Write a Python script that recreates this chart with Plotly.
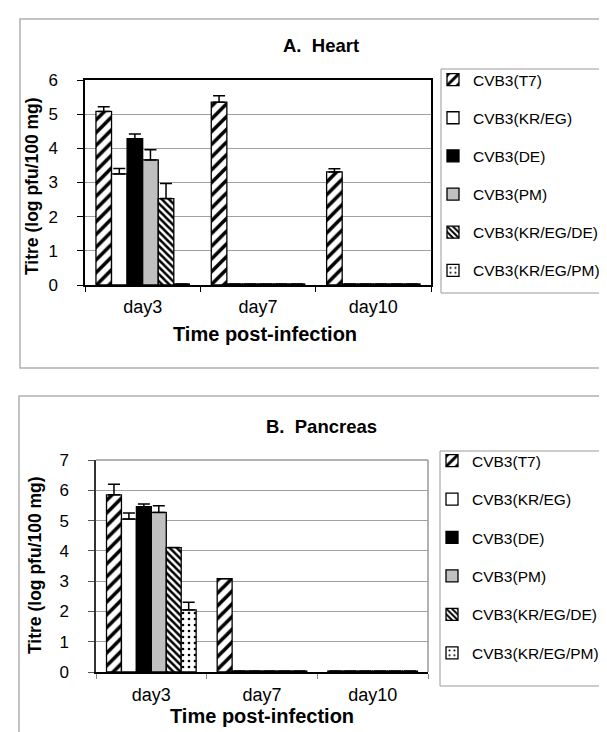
import plotly.graph_objects as go

W, H = 607, 732

days = ["day3", "day7", "day10"]
strains = ["CVB3(T7)", "CVB3(KR/EG)", "CVB3(DE)", "CVB3(PM)",
           "CVB3(KR/EG/DE)", "CVB3(KR/EG/PM)"]

# A. Heart (log pfu/100 mg)
heart_t7 = [5.08, 5.35, 3.31]
heart_kreg = [3.25, 0.03, 0.03]
heart_de = [4.28, 0.03, 0.03]
heart_pm = [3.66, 0.03, 0.03]
heart_kregde = [2.53, 0.03, 0.03]
heart_kregpm = [0.03, 0.03, 0.03]
heart_t7_err = [0.14, 0.19, 0.09]
heart_kreg_err = [0.16, None, None]
heart_de_err = [0.14, None, None]
heart_pm_err = [0.30, None, None]
heart_kregde_err = [0.44, None, None]
heart_kregpm_err = [None, None, None]

# B. Pancreas
panc_t7 = [5.85, 3.08, 0.03]
panc_kreg = [5.05, 0.03, 0.03]
panc_de = [5.46, 0.03, 0.03]
panc_pm = [5.27, 0.03, 0.03]
panc_kregde = [4.11, 0.03, 0.03]
panc_kregpm = [2.05, 0.03, 0.03]
panc_t7_err = [0.35, None, None]
panc_kreg_err = [0.20, None, None]
panc_de_err = [0.09, None, None]
panc_pm_err = [0.22, None, None]
panc_kregde_err = [None, None, None]
panc_kregpm_err = [0.25, None, None]

heart = [heart_t7, heart_kreg, heart_de, heart_pm, heart_kregde, heart_kregpm]
heart_err = [heart_t7_err, heart_kreg_err, heart_de_err, heart_pm_err,
             heart_kregde_err, heart_kregpm_err]
panc = [panc_t7, panc_kreg, panc_de, panc_pm, panc_kregde, panc_kregpm]
panc_err = [panc_t7_err, panc_kreg_err, panc_de_err, panc_pm_err,
            panc_kregde_err, panc_kregpm_err]

styles = [
    dict(color="white", pattern=dict(shape="/", fgcolor="black", bgcolor="white",
                                     fgopacity=1, size=9, solidity=0.4)),
    dict(color="white"),
    dict(color="black"),
    dict(color="#c0c0c0"),
    dict(color="white", pattern=dict(shape="\\", fgcolor="black", bgcolor="white",
                                     fgopacity=1, size=5, solidity=0.5)),
    dict(color="white", pattern=dict(shape=".", fgcolor="black", bgcolor="white",
                                     fgopacity=1, size=6, solidity=0.15)),
]

FONT = "Liberation Sans, Arial, sans-serif"


def px_x(x):
    return x / W


def px_y(y):
    return 1 - y / H


fig = go.Figure()

for i, name in enumerate(strains):
    st = styles[i]
    for vals, errs, xa, ya, leg, grp in [
        (heart[i], heart_err[i], "x", "y", "legend", "h"),
        (panc[i], panc_err[i], "x2", "y2", "legend2", "p"),
    ]:
        marker = dict(color=st["color"], line=dict(color="black", width=1.3))
        if "pattern" in st:
            marker["pattern"] = st["pattern"]
        fig.add_trace(go.Bar(
            x=days, y=vals, name=name, xaxis=xa, yaxis=ya,
            legend=leg, legendgroup=grp + str(i),
            marker=marker,
            error_y=dict(type="data", array=errs,
                         arrayminus=[0 if e is not None else None for e in errs],
                         symmetric=False, color="black", thickness=1.5, width=6),
        ))

axis_font = dict(family=FONT, size=17, color="black")
xtick_font = dict(family=FONT, size=18, color="black")
leg_font = dict(family=FONT, size=15.5, color="black")

fig.update_layout(
    width=W, height=H,
    margin=dict(l=0, r=0, t=0, b=0, autoexpand=False),
    paper_bgcolor="white", plot_bgcolor="white",
    barmode="group", bargap=0.19, bargroupgap=0,
    font=dict(family=FONT, color="black"),
    xaxis=dict(domain=[px_x(77), px_x(423)], anchor="y", showline=True, linecolor="black",
               linewidth=1.5, mirror=True, ticks="outside", ticklen=5, tickcolor="black",
               tickson="boundaries", tickfont=xtick_font,
               ticklabelstandoff=5, showgrid=False),
    yaxis=dict(domain=[px_y(277), px_y(72)], anchor="x", range=[0, 6], dtick=1,
               showline=True, linecolor="black", linewidth=1.5, mirror=True,
               ticks="outside", ticklen=6, tickcolor="black", tickfont=axis_font,
               showgrid=True, gridcolor="#a0a0a0", gridwidth=1, zeroline=False,
               ticklabelstandoff=16),
    xaxis2=dict(domain=[px_x(88), px_x(420)], anchor="y2", showline=True, linecolor="black",
                linewidth=1.5, mirror=False, ticks="outside", ticklen=5, tickcolor="#888",
                tickson="boundaries", tickfont=xtick_font,
                ticklabelstandoff=6, showgrid=False),
    yaxis2=dict(domain=[px_y(664), px_y(452)], anchor="x2", range=[0, 7], dtick=1,
                showline=True, linecolor="#333", linewidth=1.5, mirror=False,
                ticks="outside", ticklen=6, tickcolor="#555", tickfont=axis_font,
                showgrid=True, gridcolor="#a0a0a0", gridwidth=1, zeroline=False,
                ticklabelstandoff=16),
    legend=dict(x=px_x(425), y=px_y(55), xanchor="left", yanchor="top",
                borderwidth=0, bgcolor="rgba(0,0,0,0)",
                font=leg_font, traceorder="grouped", tracegroupgap=15, itemwidth=30),
    legend2=dict(x=px_x(424), y=px_y(436), xanchor="left", yanchor="top",
                 borderwidth=0, bgcolor="rgba(0,0,0,0)",
                 font=leg_font, traceorder="grouped", tracegroupgap=15.3, itemwidth=30),
    showlegend=True,
)

# bottom chart grey plot-area border (top and right)
fig.add_shape(type="line", xref="x2 domain", yref="y2 domain", x0=0, x1=1, y0=1, y1=1,
              line=dict(color="#999", width=1.5))
fig.add_shape(type="line", xref="x2 domain", yref="y2 domain", x0=1, x1=1, y0=0, y1=1,
              line=dict(color="#999", width=1.5))

# outer chart frames
fig.add_shape(type="rect", xref="paper", yref="paper", x0=px_x(12), x1=px_x(640),
              y0=px_y(360), y1=px_y(11), line=dict(color="#b0b0b0", width=1.5), layer="below")
fig.add_shape(type="rect", xref="paper", yref="paper", x0=px_x(11), x1=px_x(640),
              y0=px_y(760), y1=px_y(388), line=dict(color="#b0b0b0", width=1.5), layer="below")

# legend frames
fig.add_shape(type="rect", xref="paper", yref="paper", x0=px_x(433), x1=px_x(640),
              y0=px_y(285), y1=px_y(61), line=dict(color="#999", width=1), layer="below")
fig.add_shape(type="rect", xref="paper", yref="paper", x0=px_x(432), x1=px_x(640),
              y0=px_y(678), y1=px_y(443), line=dict(color="#999", width=1), layer="below")

bold = dict(family=FONT, size=18.5, color="black")
ann = [
    dict(text="<b>A.  Heart</b>", x=px_x(313), y=px_y(38)),
    dict(text="<b>B.  Pancreas</b>", x=px_x(313), y=px_y(418)),
    dict(text="<b>Time post-infection</b>", x=px_x(257), y=px_y(326), size=20),
    dict(text="<b>Time post-infection</b>", x=px_x(254), y=px_y(708), size=20),
    dict(text="<b>Titre (log pfu/100 mg)</b>", x=px_x(24), y=px_y(178), angle=-90, size=17.5),
    dict(text="<b>Titre (log pfu/100 mg)</b>", x=px_x(27), y=px_y(557), angle=-90, size=17.5),
]
for a in ann:
    f = dict(bold)
    if "size" in a:
        f["size"] = a["size"]
    fig.add_annotation(text=a["text"], x=a["x"], y=a["y"], xref="paper", yref="paper",
                       showarrow=False, xanchor="center", yanchor="middle",
                       textangle=a.get("angle", 0), font=f)

fig.write_html("out.html")
